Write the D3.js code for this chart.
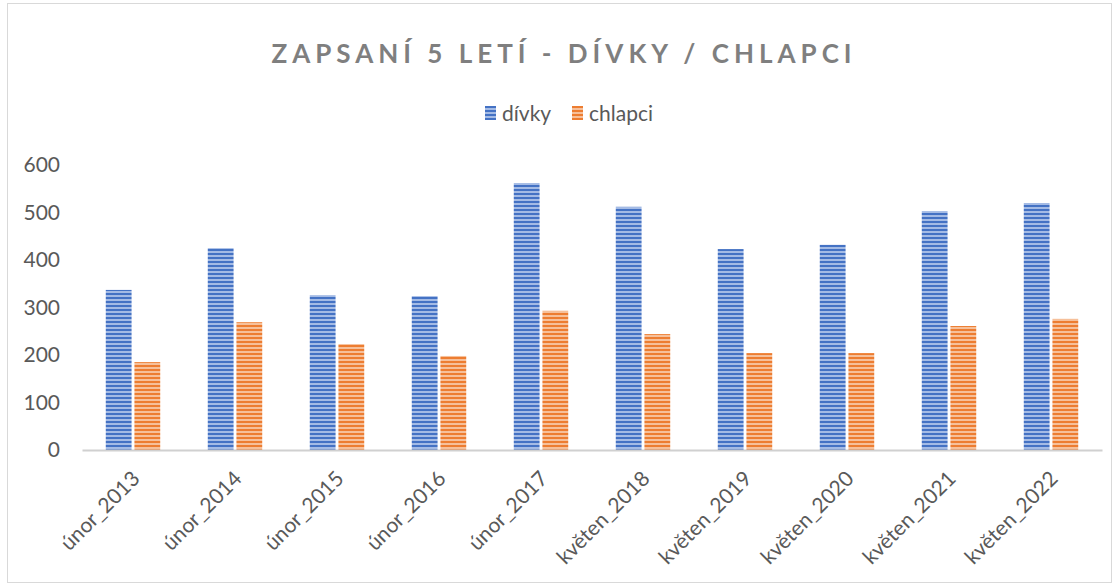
<!DOCTYPE html>
<html>
<head>
<meta charset="utf-8">
<script src="https://cdn.jsdelivr.net/npm/d3@7"></script>
<style>
  html, body { margin: 0; padding: 0; background: #fff; }
  svg { display: block; font-family: Lato, 'Open Sans', sans-serif; }
</style>
</head>
<body>
<svg width="1117" height="586"></svg>
<script>
const categories = ['únor_2013', 'únor_2014', 'únor_2015', 'únor_2016', 'únor_2017',
  'květen_2018', 'květen_2019', 'květen_2020', 'květen_2021', 'květen_2022'];
const divky = [337, 425, 326, 324, 562, 512, 423, 432, 503, 520];
const chlapci = [185, 269, 223, 198, 293, 244, 204, 204, 261, 276];
const seriesNames = ['dívky', 'chlapci'];
const yTicks = [0, 100, 200, 300, 400, 500, 600];

const svg = d3.select('svg');
const width = 1117;
const height = 586;
const margin = { top: 165, right: 15, bottom: 136, left: 82 };
const innerWidth = 1102 - margin.left;
const innerHeight = 450 - margin.top;

// stripe patterns for bars
const defs = svg.append('defs');
const stripes = [
  { id: 'pat-divky', light: '#a4bbe5', dark: '#4472c4' },
  { id: 'pat-chlapci', light: '#f6c09a', dark: '#ed7d31' }
];
stripes.forEach((s) => {
  const p = defs.append('pattern')
    .attr('id', s.id)
    .attr('patternUnits', 'userSpaceOnUse')
    .attr('width', 8)
    .attr('height', 4);
  p.append('rect').attr('width', 8).attr('height', 4).attr('fill', s.light);
  p.append('rect').attr('width', 8).attr('height', 2).attr('fill', s.dark);
});

// outer frame
svg.append('rect')
  .attr('x', 7.5).attr('y', 3.5)
  .attr('width', width - 13).attr('height', height - 7)
  .attr('fill', 'none')
  .attr('stroke', '#d9d9d9');

// title
svg.append('text')
  .attr('x', 564)
  .attr('y', 63)
  .attr('text-anchor', 'middle')
  .attr('fill', '#7f7f7f')
  .attr('font-size', 26)
  .attr('font-weight', 'bold')
  .attr('letter-spacing', 5)
  .text('ZAPSANÍ 5 LETÍ - DÍVKY / CHLAPCI');

const data = categories.map((c, i) => ({ cat: c, values: [divky[i], chlapci[i]] }));

const x0 = d3.scaleBand()
  .domain(categories)
  .range([0, innerWidth])
  .paddingInner(0.41)
  .paddingOuter(0.205);

const x1 = d3.scaleBand()
  .domain(seriesNames)
  .range([0, x0.bandwidth()])
  .padding(0.1);

const y = d3.scaleLinear()
  .domain([0, 600])
  .range([innerHeight, 0]);

const fills = ['url(#pat-divky)', 'url(#pat-chlapci)'];

const g = svg.append('g')
  .attr('transform', `translate(${margin.left},${margin.top})`);

// y axis labels
const yAxis = g.append('g')
  .call(d3.axisLeft(y).tickValues(yTicks).tickSize(0).tickPadding(22));
yAxis.select('.domain').remove();
yAxis.selectAll('text')
  .attr('fill', '#595959')
  .attr('font-size', 21)
  .attr('font-family', 'Lato, sans-serif');

// bars
const groups = g.selectAll('.grp')
  .data(data)
  .enter()
  .append('g')
  .attr('class', 'grp')
  .attr('transform', (d) => `translate(${x0(d.cat)},0)`);

groups.selectAll('rect')
  .data((d) => d.values.map((v, i) => ({ key: seriesNames[i], v, i })))
  .enter()
  .append('rect')
  .attr('x', (d) => x1(d.key))
  .attr('y', (d) => y(d.v))
  .attr('width', x1.bandwidth())
  .attr('height', (d) => innerHeight - y(d.v))
  .attr('fill', (d) => fills[d.i]);

// x axis
const xAxis = g.append('g')
  .attr('transform', `translate(0,${innerHeight})`)
  .call(d3.axisBottom(x0).tickSize(0));
xAxis.select('.domain')
  .attr('stroke', '#d0d0d0')
  .attr('stroke-width', 2);
xAxis.selectAll('text')
  .attr('fill', '#595959')
  .attr('font-size', 21)
  .attr('font-family', 'Lato, sans-serif')
  .attr('text-anchor', 'end')
  .attr('dy', 0)
  .attr('y', 0)
  .attr('transform', 'translate(8,30) rotate(-45)');

// legend
const legend = svg.append('g')
  .attr('transform', 'translate(485,106)');
const legendX = [0, 87];
seriesNames.forEach((name, i) => {
  const item = legend.append('g').attr('transform', `translate(${legendX[i]},0)`);
  item.append('rect')
    .attr('width', 11).attr('height', 14)
    .attr('fill', fills[i]);
  item.append('text')
    .attr('x', 17).attr('y', 15)
    .attr('fill', '#595959')
    .attr('font-size', 21)
    .text(name);
});
</script>
</body>
</html>
